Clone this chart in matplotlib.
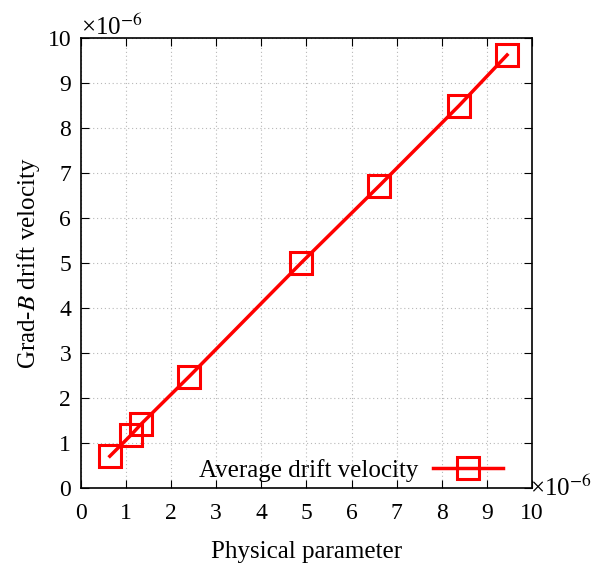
import matplotlib
matplotlib.use("Agg")
import matplotlib.pyplot as plt

plt.rcParams['font.family'] = ['Liberation Serif', 'DejaVu Serif']
plt.rcParams['mathtext.fontset'] = 'stix'

x_vals = [0.64, 1.11, 1.33, 2.39, 4.88, 6.61, 8.38, 9.45]
y_vals = [0.71, 1.18, 1.42, 2.47, 5.00, 6.71, 8.49, 9.62]
ticks = list(range(0, 11))
series_label = "Average drift velocity"

fig = plt.figure(figsize=(5.91, 5.65), dpi=100)
ax = fig.add_axes([0.137, 0.136, 0.763, 0.797])

ax.plot(x_vals, y_vals, color='#ff0000', lw=2.5, marker='s', markersize=16,
        markerfacecolor='none', markeredgecolor='#ff0000', markeredgewidth=2.2,
        label=series_label)

ax.set_xlim(0, 10)
ax.set_ylim(0, 10)
ax.set_xticks(ticks)
ax.set_yticks(ticks)
ax.tick_params(direction='in', top=True, right=True, length=6, labelsize=17, pad=7, color='black')
ax.tick_params(axis='x', pad=11)
ax.grid(True, color='#b8b8b8', linestyle=(0, (1, 2.5)), linewidth=0.8)
for s in ax.spines.values():
    s.set_linewidth(1.2)

ax.set_xlabel("Physical parameter", fontsize=18, labelpad=12)
ax.set_ylabel("Grad-$\\mathit{B}$ drift velocity", fontsize=18, labelpad=4)

ax.text(0.0, 0.995, "×10$^{-6}$", transform=ax.transAxes, fontsize=18,
        ha='left', va='bottom')
ax.text(0.995, 0.0, "×10$^{-6}$", transform=ax.transAxes, fontsize=18,
        ha='left', va='center')

leg = ax.legend(loc='lower right', frameon=False, markerfirst=False, fontsize=18,
                handlelength=2.8, handletextpad=0.6, borderaxespad=0.3,
                bbox_to_anchor=(0.975, -0.025))

fig.savefig("out.png", dpi=100)
